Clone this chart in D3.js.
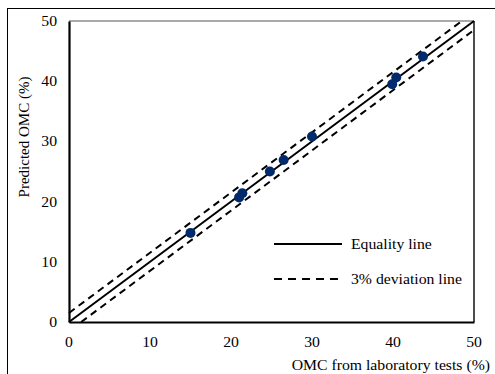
<!DOCTYPE html>
<html>
<head>
<meta charset="utf-8">
<script src="https://cdn.jsdelivr.net/npm/d3@7"></script>
<style>
  html, body { margin: 0; padding: 0; background: #fff; }
  text { font-family: 'Liberation Serif', serif; }
</style>
</head>
<body>
<svg id="chart" width="495" height="374"></svg>
<script>
// Measured vs. predicted optimum moisture content (%)
const labOMC       = [15.0, 21.0, 21.4, 24.8, 26.5, 30.0, 39.9, 40.4, 43.7];
const predictedOMC = [14.8, 20.7, 21.4, 25.0, 26.9, 30.8, 39.5, 40.6, 44.1];
const xTicks = [0, 10, 20, 30, 40, 50];
const yTicks = [0, 10, 20, 30, 40, 50];
const deviation = 1.5;              // half-width of the deviation band
const legendLabels = ["Equality line", "3% deviation line"];

const FONT = "'Liberation Serif', serif";
const svg = d3.select("#chart");
const stretch = 1.05;               // horizontal stretch of the lettering

const plot = { left: 69, right: 474, top: 21, bottom: 322 };
const x = d3.scaleLinear().domain([0, 50]).range([plot.left, plot.right]);
const y = d3.scaleLinear().domain([0, 50]).range([plot.bottom, plot.top]);

// outer frame
svg.append("rect")
  .attr("x", 7.5).attr("y", 8.5).attr("width", 500).attr("height", 400)
  .attr("fill", "none").attr("stroke", "#000").attr("stroke-width", 1);

function label(tx, ty, text, anchor, size) {
  return svg.append("text")
    .attr("transform", `translate(${tx},${ty}) scale(${stretch},1)`)
    .attr("text-anchor", anchor)
    .attr("font-family", FONT)
    .attr("font-size", size)
    .attr("fill", "#000")
    .text(text);
}

// plot frame: top and right edges
svg.append("line").attr("x1", x(0)).attr("x2", x(50)).attr("y1", y(50)).attr("y2", y(50))
  .attr("stroke", "#555").attr("stroke-width", 1.2);
svg.append("line").attr("x1", x(50)).attr("x2", x(50)).attr("y1", y(50)).attr("y2", y(0))
  .attr("stroke", "#000").attr("stroke-width", 1.4);

// axes without tick marks
const xAxis = svg.append("g").attr("transform", `translate(0,${plot.bottom})`)
  .call(d3.axisBottom(x).tickValues(xTicks).tickSize(0).tickFormat(() => ""));
const yAxis = svg.append("g").attr("transform", `translate(${plot.left},0)`)
  .call(d3.axisLeft(y).tickValues(yTicks).tickSize(0).tickFormat(() => ""));
[xAxis, yAxis].forEach(g => g.select(".domain").attr("stroke", "#000").attr("stroke-width", 2.2));

xTicks.forEach(v => label(x(v), 347, String(v), "middle", 15));
yTicks.forEach(v => label(57, y(v) + 5, String(v), "end", 15));

// reference lines
const line = d3.line().x(d => x(d[0])).y(d => y(d[1]));
svg.append("path").datum([[0, 0], [50, 50]]).attr("d", line)
  .attr("fill", "none").attr("stroke", "#000").attr("stroke-width", 2);
svg.append("path").datum([[0, deviation], [50 - deviation, 50]]).attr("d", line)
  .attr("fill", "none").attr("stroke", "#000").attr("stroke-width", 2).attr("stroke-dasharray", "7,5");
svg.append("path").datum([[deviation, 0], [50, 50 - deviation]]).attr("d", line)
  .attr("fill", "none").attr("stroke", "#000").attr("stroke-width", 2).attr("stroke-dasharray", "7,5");

// data points
svg.append("g").selectAll("circle")
  .data(labOMC.map((v, i) => [v, predictedOMC[i]]))
  .join("circle")
  .attr("cx", d => x(d[0])).attr("cy", d => y(d[1]))
  .attr("r", 5).attr("fill", "#002a6b");

// legend
svg.append("line").attr("x1", 274).attr("x2", 342).attr("y1", 244).attr("y2", 244)
  .attr("stroke", "#000").attr("stroke-width", 2);
svg.append("line").attr("x1", 274).attr("x2", 342).attr("y1", 279).attr("y2", 279)
  .attr("stroke", "#000").attr("stroke-width", 2).attr("stroke-dasharray", "8,6");
label(351, 249, legendLabels[0], "start", 15);
label(351, 284, legendLabels[1], "start", 15);

// axis titles
label(490, 370, "OMC from laboratory tests (%)", "end", 15);
svg.append("text")
  .attr("transform", "translate(29,137) rotate(-90)")
  .attr("text-anchor", "middle").attr("font-family", FONT).attr("font-size", 15).attr("fill", "#000")
  .text("Predicted OMC (%)");
</script>
</body>
</html>
